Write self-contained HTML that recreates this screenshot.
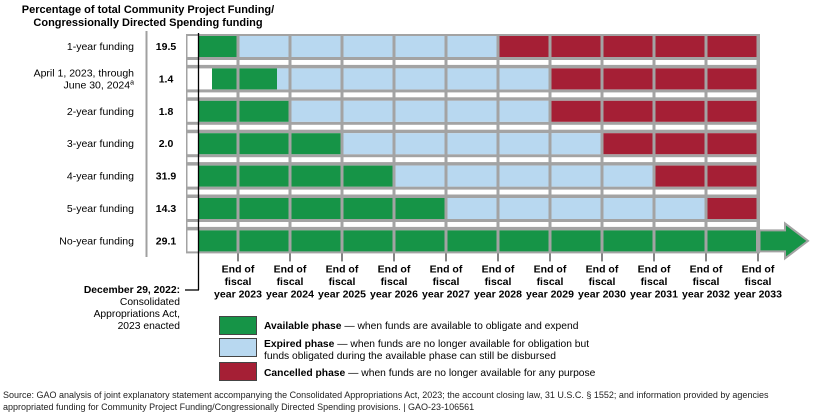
<!DOCTYPE html>
<html><head><meta charset="utf-8"><style>
body{margin:0;background:#fff;}
svg{display:block;font-family:"Liberation Sans",Arial,sans-serif;}
</style></head><body>
<svg id="chart" width="840" height="415" viewBox="0 0 840 415">
<text x="148" y="13" text-anchor="middle" font-size="11" font-weight="bold">Percentage of total Community Project Funding/</text>
<text x="148" y="26" text-anchor="middle" font-size="11" font-weight="bold">Congressionally Directed Spending funding</text>
<line x1="146.5" y1="31" x2="146.5" y2="257" stroke="#a0a0a0" stroke-width="2"/>
<g id="grid"></g>
<g id="labels"></g>
<g id="ticks"></g>
<line x1="198.5" y1="33" x2="198.5" y2="290" stroke="#000" stroke-width="1.3"/>
<line x1="185" y1="290" x2="199" y2="290" stroke="#000" stroke-width="1.3"/>
<g font-size="10.3" text-anchor="end">
<text x="180" y="293" font-weight="bold">December 29, 2022:</text>
<text x="180" y="305">Consolidated</text>
<text x="180" y="317">Appropriations Act,</text>
<text x="180" y="329">2023 enacted</text>
</g>
<g font-size="10.3">
<rect x="219.5" y="316.5" width="37" height="18" fill="#169447" stroke="#444"/>
<text x="264" y="329"><tspan font-weight="bold">Available phase</tspan> — when funds are available to obligate and expend</text>
<rect x="219.5" y="338.5" width="37" height="18" fill="#b8d8f0" stroke="#444"/>
<text x="264" y="347"><tspan font-weight="bold">Expired phase</tspan> — when funds are no longer available for obligation but</text>
<text x="264" y="359">funds obligated during the available phase can still be disbursed</text>
<rect x="219.5" y="362.5" width="37" height="18" fill="#a51f35" stroke="#444"/>
<text x="264" y="376"><tspan font-weight="bold">Cancelled phase</tspan> — when funds are no longer available for any purpose</text>
</g>
<g font-size="9" fill="#222">
<text x="3" y="398">Source: GAO analysis of joint explanatory statement accompanying the Consolidated Appropriations Act, 2023; the account closing law, 31 U.S.C. § 1552; and information provided by agencies</text>
<text x="3" y="410">appropriated funding for Community Project Funding/Congressionally Directed Spending provisions.  |  GAO-23-106561</text>
</g>
</svg>
<script>
const rowLabels=[["1-year funding"],["April 1, 2023, through","June 30, 2024"],["2-year funding"],["3-year funding"],["4-year funding"],["5-year funding"],["No-year funding"]];
const percents=["19.5","1.4","1.8","2.0","31.9","14.3","29.1"];
const availStart=[2022.24,2022.5,2022.24,2022.24,2022.24,2022.24,2022.24];
const availEnd=[2023,2023.75,2024,2025,2026,2027,2033];
const expiredEnd=[2028,2029,2029,2030,2031,2032,2033];
const tickYears=[2023,2024,2025,2026,2027,2028,2029,2030,2031,2032,2033];
const NS="http://www.w3.org/2000/svg";
const x=v=>238+(v-2023)*52;
const rowTop=r=>34+r*32.4;
const C={g:"#169447",b:"#b8d8f0",r:"#a51f35",gray:"#a3a3a3"};
function mk(t,a,p){const e=document.createElementNS(NS,t);for(const k in a)e.setAttribute(k,a[k]);p.appendChild(e);return e;}
const grid=document.getElementById('grid'),labels=document.getElementById('labels'),ticks=document.getElementById('ticks');
const x0=x(2022),x1=x(2033);
const n=rowLabels.length;
const bg=mk('rect',{x:x0,y:rowTop(0),width:x1-x0+2,height:rowTop(n-1)+25-rowTop(0),fill:C.gray},grid);


for(let r=0;r<n;r++){
  const t=rowTop(r);
  const g=mk('g',{},grid);
  
  
  for(let y=2022;y<2033;y++){
    const cx0=x(y)+1.5,cx1=x(y+1)-1.5;
    mk('rect',{x:cx0,y:t+2,width:cx1-cx0,height:21,fill:"#fff"},g);
    const segs=[[availStart[r],availEnd[r],C.g],[availEnd[r],expiredEnd[r],C.b],[expiredEnd[r],2033,C.r]];
    segs.forEach(([a,b,c])=>{
      const s=Math.max(x(a),cx0),e=Math.min(x(b),cx1);
      if(e>s){const rc=mk('rect',{x:s,y:t+2,width:e-s,height:21,fill:c},g);
        
        }
    });
    if(r<n-1){mk('rect',{x:cx0,y:t+26,width:cx1-cx0,height:4.9,fill:"#fff"},g);}
  }
  if(r===n-1){
    const ar=mk('polygon',{points:`${x1-1},${t+2} ${x1+27},${t+2} ${x1+27},${t-5} ${x1+50},${t+12.5} ${x1+27},${t+30} ${x1+27},${t+23} ${x1-1},${t+23}`,fill:C.g,stroke:C.gray,'stroke-width':2},g);
    
    
    mk('line',{x1:x1+1,y1:t+1,x2:x1+1,y2:t+24,stroke:C.gray,'stroke-width':3},g);
  }
  const lines=rowLabels[r];
  const ly=t+16-(lines.length-1)*6;
  lines.forEach((s,i)=>{
    const tx=mk('text',{x:134,y:ly+i*12,'text-anchor':'end','font-size':10.5},labels);
    tx.textContent=s;
    if(r===1&&i===1){const sp=mk('tspan',{dy:-4,'font-size':7},tx);sp.textContent='a';}
    
    
  });
  const p=mk('text',{x:166,y:t+16,'text-anchor':'middle','font-size':10.5,'font-weight':'bold'},labels);
  p.textContent=percents[r];
  
  
}
const tb=rowTop(n-1)+25;
tickYears.forEach(yv=>{
  const g=mk('g',{},ticks);
  
  
  mk('line',{x1:x(yv),y1:tb,x2:x(yv),y2:tb+8,stroke:"#333",'stroke-width':1.2},g);
  ["End of","fiscal","year "+yv].forEach((s,i)=>{
    const tx=mk('text',{x:x(yv),y:tb+19+i*12.5,'text-anchor':'middle','font-size':10.5,'font-weight':'bold'},g);
    tx.textContent=s;
  });
});
</script>
</body></html>
